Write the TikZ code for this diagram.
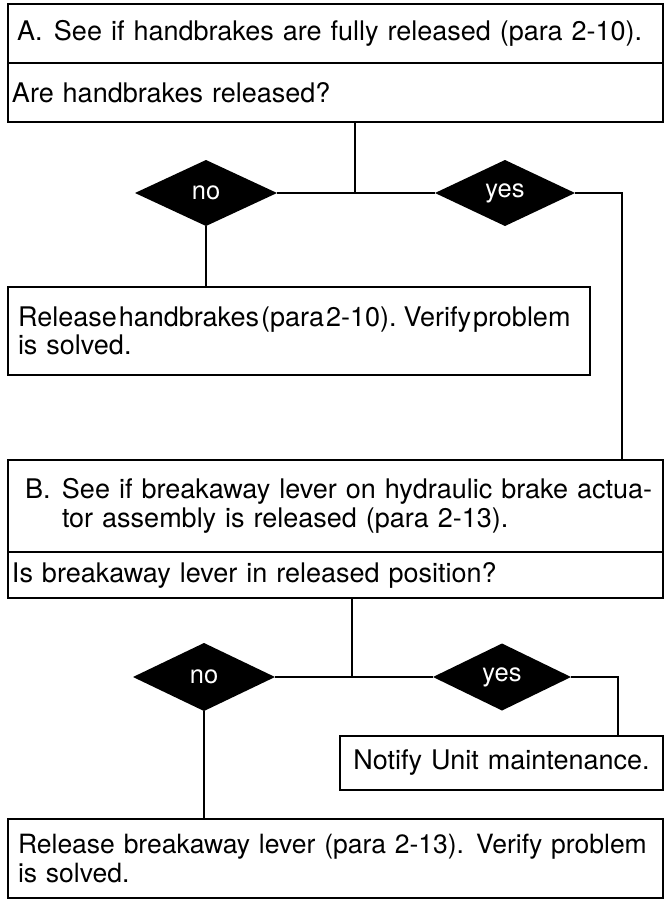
\documentclass[tikz,border=0pt]{standalone}
\usepackage{fontspec}
\setmainfont{TeX Gyre Heros}
\usetikzlibrary{shapes.geometric}
\newcommand\boxtxt{\fontsize{27}{28.5}\selectfont}
\newcommand\smalltxt{\fontsize{26.5}{28.5}\selectfont}
\newcommand\dectxt{\fontsize{25.5}{28}\selectfont}
\tikzset{
  box/.style={draw, line width=2.6pt, rectangle, anchor=north west, inner ysep=0pt,
              outer sep=0pt, align=left, font=\boxtxt},
  dec/.style={shape=diamond, fill=black, draw=none, text=white, inner sep=0pt,
              outer sep=0pt, font=\dectxt},
  link/.style={line width=2.4pt}
}
\begin{document}
\begin{tikzpicture}[x=1pt,y=-1pt]
\useasboundingbox (0,0) rectangle (665,899);
% Section A
\node[box, minimum width=655pt, minimum height=59pt, text width=637pt, inner xsep=9pt] (At) at (8,4)
  {\mbox{\makebox[37pt][l]{A.}\makebox[598pt][s]{See if handbrakes are fully released (para 2-10).}}};
\node[box, minimum width=655pt, minimum height=59pt, text width=647pt, inner xsep=4pt] (Aq) at (8,63)
  {Are handbrakes released?};
\node[dec, minimum width=142pt, minimum height=66pt] (no1) at (206,193) {no};
\node[dec, minimum width=140pt, minimum height=66pt] (yes1) at (505,193) {yes};
\node[box, minimum width=582pt, minimum height=88pt, text width=562pt, inner xsep=10pt] (rel) at (8,287)
  {\mbox{Release\hspace{2pt}handbrakes\hspace{2pt}(para\hspace{2pt}2-10).\hspace{7pt}Verify\hspace{2pt}problem}\\is solved.};
% Section B
\node[box, minimum width=655pt, minimum height=92pt, text width=621pt, inner xsep=17pt] (Bt) at (8,460)
  {\mbox{\makebox[37pt][l]{B.}See if breakaway lever on hydraulic brake actua-}\\\mbox{\hspace*{37pt}tor assembly is released (para 2-13).}};
\node[box, minimum width=655pt, minimum height=46pt, text width=647pt, inner xsep=4pt] (Bq) at (8,552)
  {\mbox{Is breakaway lever in released position?}};
\node[dec, minimum width=142pt, minimum height=68pt] (no2) at (204,677) {no};
\node[dec, minimum width=138pt, minimum height=67pt] (yes2) at (502,677) {yes};
\node[box, align=center, minimum width=323pt, minimum height=54pt, text width=303pt, inner xsep=10pt] (nt) at (340,736)
  {\mbox{Notify Unit maintenance.}};
\node[box, font=\smalltxt, minimum width=655pt, minimum height=79pt, text width=635pt, inner xsep=10pt] (fin) at (8,819)
  {\mbox{Release breakaway lever (para 2-13).\hspace{12pt}Verify problem}\\is solved.};
% connectors
\coordinate (j1) at (355,193);
\coordinate (r1) at (622,193);
\coordinate (j2) at (352,677);
\coordinate (r2) at (618,677);
\draw[link] (j1 |- Aq.south) -- (j1);
\draw[link] (no1.east) -- (yes1.west);
\draw[link] (yes1.east) -- (r1) -- (r1 |- Bt.north);
\draw[link] (no1.south) -- (no1.south |- rel.north);
\draw[link] (j2 |- Bq.south) -- (j2);
\draw[link] (no2.east) -- (yes2.west);
\draw[link] (yes2.east) -- (r2) -- (r2 |- nt.north);
\draw[link] (no2.south) -- (no2.south |- fin.north);
\end{tikzpicture}
\end{document}
